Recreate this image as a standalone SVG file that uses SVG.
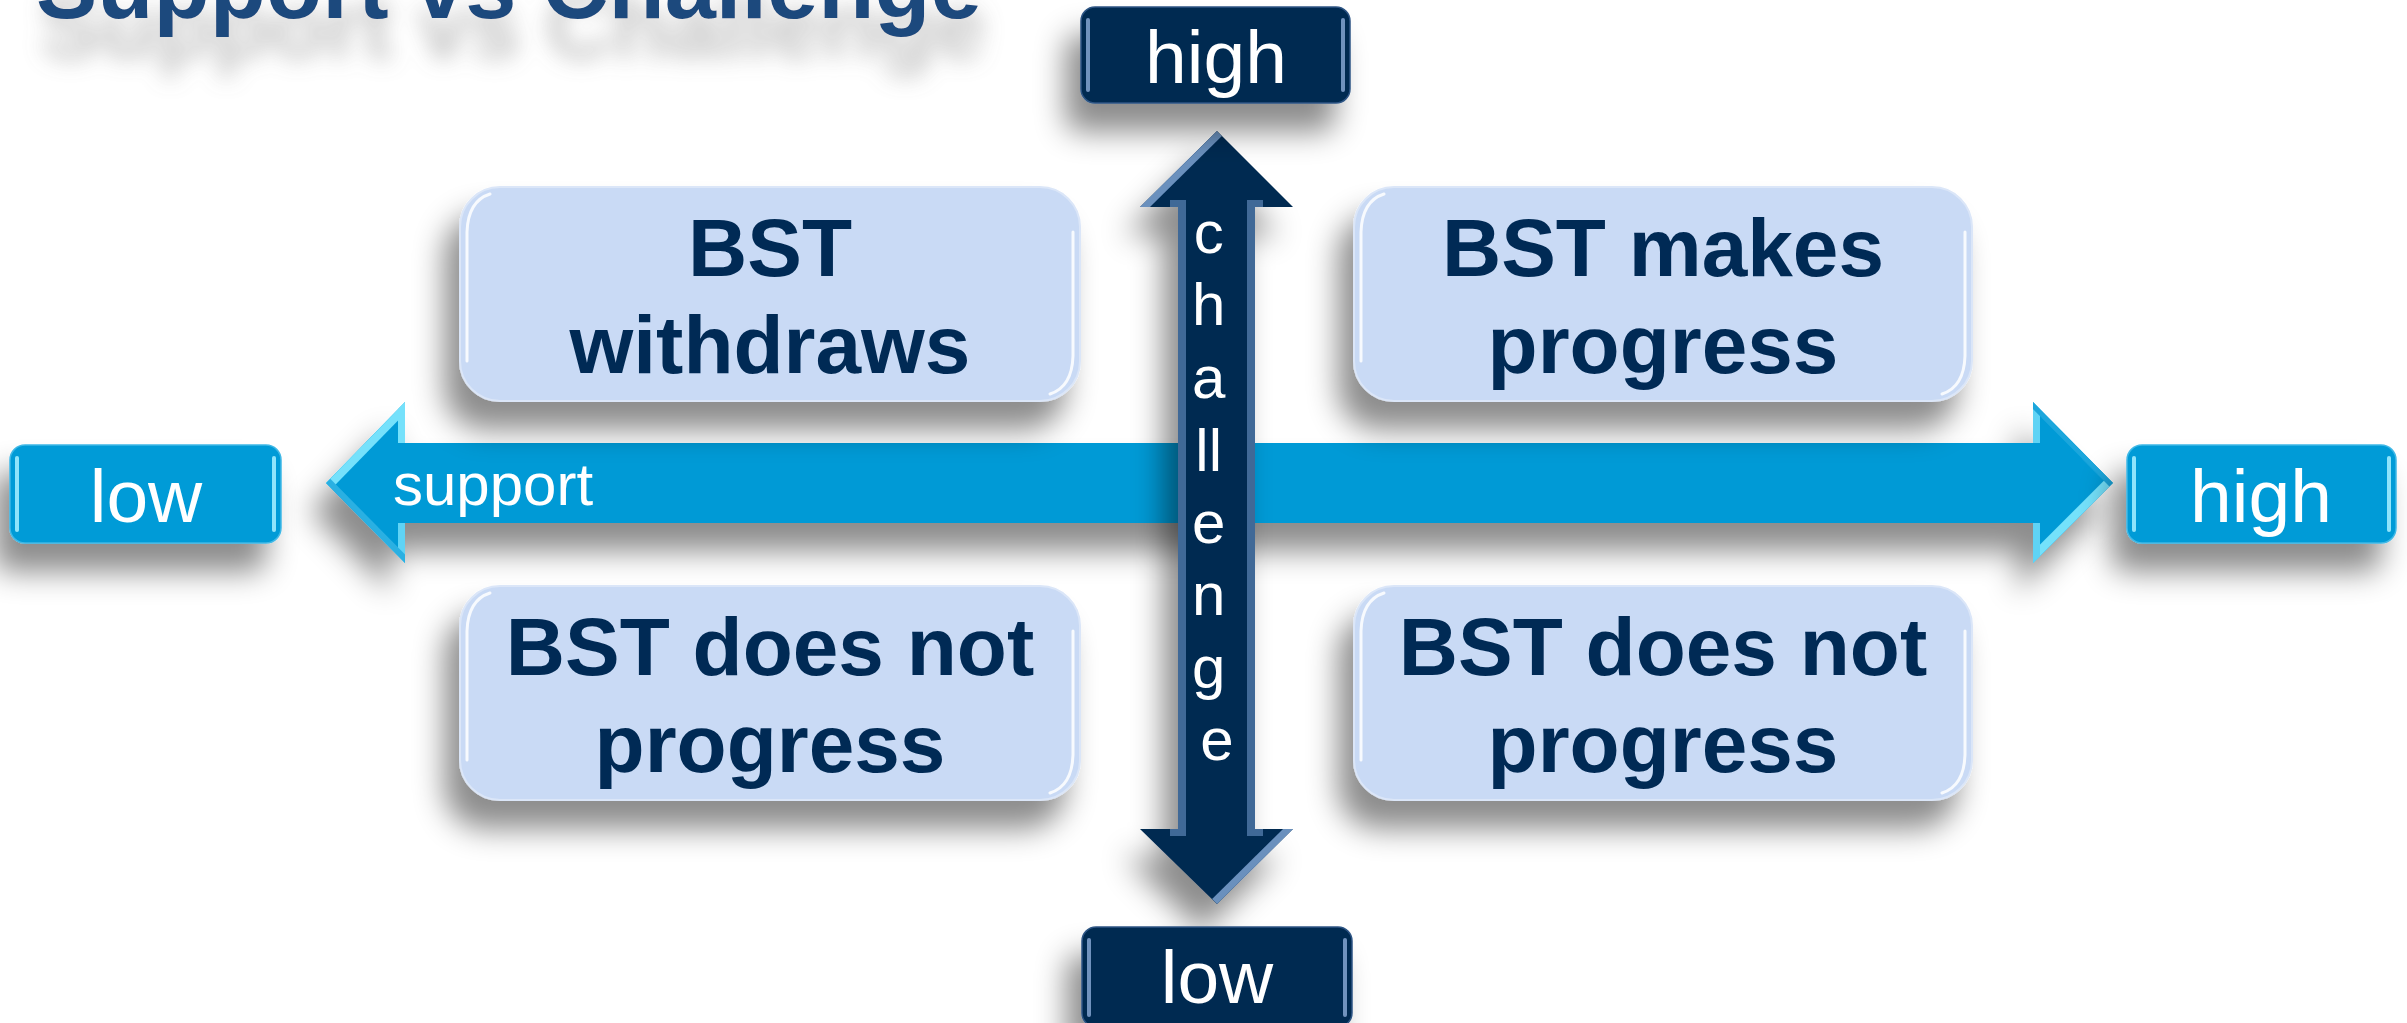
<svg xmlns="http://www.w3.org/2000/svg" width="2407" height="1023" viewBox="0 0 2407 1023">
  <defs>
    <style>
      .title { font-family: "Liberation Sans", Arial, sans-serif; font-weight: bold; font-size: 92px; }
      .lbl { font-family: "Liberation Sans", Arial, sans-serif; fill: #ffffff; text-anchor: middle; font-size: 75px; }
      .quad { font-family: "Liberation Sans", Arial, sans-serif; font-weight: bold; fill: #002a54; text-anchor: middle; font-size: 82px; }
      .axis { font-family: "Liberation Sans", Arial, sans-serif; fill: #ffffff; font-size: 60px; }
      .qbox { fill: #c9daf5; stroke: #dbe6f8; stroke-width: 2; }
      .cyanbox { fill: #009bd7; stroke: #3fb8e6; stroke-width: 1.5; }
      .navybox { fill: #022a51; stroke: #2d5484; stroke-width: 1.5; }
      .hl-q { fill: none; stroke: #ffffff; stroke-width: 3; stroke-linecap: round; opacity: 0.85; }
      .hl-c { fill: none; stroke: #8fe4fb; stroke-width: 4; stroke-linecap: round; }
      .hl-n { fill: none; stroke: #6f92bd; stroke-width: 4; stroke-linecap: round; }
    </style>
    <filter id="drop" x="-60%" y="-90%" width="220%" height="280%">
      <feDropShadow dx="-15" dy="28" stdDeviation="15" flood-color="#000000" flood-opacity="0.45"/>
    </filter>
    <filter id="titleShadow" x="-10%" y="-60%" width="120%" height="260%">
      <feGaussianBlur in="SourceAlpha" stdDeviation="11" result="b"/>
      <feOffset in="b" dx="4" dy="40" result="o"/>
      <feFlood flood-color="#7a7a7a" flood-opacity="0.45"/>
      <feComposite in2="o" operator="in" result="s"/>
      <feMerge>
        <feMergeNode in="s"/>
        <feMergeNode in="SourceGraphic"/>
      </feMerge>
    </filter>
    <path id="hArrow" d="M326 483 L405 402 L405 443 L2033 443 L2033 402 L2113 483 L2033 563 L2033 523 L405 523 L405 563 Z"/>
    <path id="vArrow" d="M1217 131 L1293 207 L1255 207 L1255 829 L1293 829 L1217 904 L1140 829 L1178 829 L1178 207 L1140 207 Z"/>
    <clipPath id="hClip"><use href="#hArrow"/></clipPath>
    <clipPath id="vClip"><use href="#vArrow"/></clipPath>
  </defs>

  <rect width="2407" height="1023" fill="#ffffff"/>

  <!-- heading with its soft cast shadow -->
  <g id="title">
    <text class="title" x="36" y="18" fill="#1f497d" filter="url(#titleShadow)">Support vs Challenge</text>
  </g>

  <!-- axes -->
  <g id="connectors">
    <g id="support-axis" filter="url(#drop)">
      <use href="#hArrow" fill="#009ad6"/>
      <g clip-path="url(#hClip)" fill="none">
        <line x1="326" y1="483" x2="405" y2="402" stroke="#74e1fb" stroke-width="16"/>
        <line x1="405" y1="402" x2="405" y2="443" stroke="#74e1fb" stroke-width="14"/>
        <line x1="405" y1="523" x2="405" y2="563" stroke="#5fd3f5" stroke-width="14"/>
        <line x1="405" y1="563" x2="326" y2="483" stroke="#2cb0e2" stroke-width="12"/>
        <line x1="2113" y1="483" x2="2033" y2="563" stroke="#74e1fb" stroke-width="16"/>
        <line x1="2033" y1="402" x2="2033" y2="443" stroke="#5fd3f5" stroke-width="14"/>
        <line x1="2033" y1="523" x2="2033" y2="563" stroke="#5fd3f5" stroke-width="14"/>
        <line x1="2033" y1="402" x2="2113" y2="483" stroke="#1aa6dc" stroke-width="10"/>
      </g>
      <text class="axis" x="393" y="505" font-size="59">support</text>
    </g>
    <g id="challenge-axis" filter="url(#drop)">
      <use href="#vArrow" fill="#022a51"/>
      <g clip-path="url(#vClip)" fill="none">
        <line x1="1217" y1="131" x2="1140" y2="207" stroke="#6a90bd" stroke-width="14"/>
        <line x1="1178" y1="200" x2="1178" y2="836" stroke="#3f6997" stroke-width="16"/>
        <line x1="1255" y1="200" x2="1255" y2="836" stroke="#3f6997" stroke-width="16"/>
        <line x1="1293" y1="829" x2="1217" y2="904" stroke="#6a90bd" stroke-width="14"/>
      </g>
      <text class="axis" text-anchor="middle" font-size="62">
        <tspan x="1217" y="253">c</tspan>
        <tspan x="1217" y="325">h</tspan>
        <tspan x="1217" y="398">a</tspan>
        <tspan x="1217" y="471">ll</tspan>
        <tspan x="1217" y="543">e</tspan>
        <tspan x="1217" y="615">n</tspan>
        <tspan x="1217" y="688">g</tspan>
        <tspan x="1217" y="760">e</tspan>
      </text>
    </g>
  </g>

  <!-- quadrant outcomes -->
  <g id="quad-top-left" filter="url(#drop)">
    <rect class="qbox" x="460" y="187" width="620" height="214" rx="40"/>
    <path class="hl-q" d="M467 361 L467 232 Q468 201 490 194"/>
    <path class="hl-q" d="M1073 232 L1073 356 Q1072 387 1050 394"/>
    <text class="quad" x="770" y="276">BST</text>
    <text class="quad" x="770" y="373">withdraws</text>
  </g>
  <g id="quad-top-right" filter="url(#drop)">
    <rect class="qbox" x="1354" y="187" width="618" height="214" rx="40"/>
    <path class="hl-q" d="M1361 361 L1361 232 Q1362 201 1384 194"/>
    <path class="hl-q" d="M1965 232 L1965 356 Q1964 387 1942 394"/>
    <text class="quad" x="1663" y="276">BST makes</text>
    <text class="quad" x="1663" y="373">progress</text>
  </g>
  <g id="quad-bottom-left" filter="url(#drop)">
    <rect class="qbox" x="460" y="586" width="620" height="214" rx="40"/>
    <path class="hl-q" d="M467 760 L467 631 Q468 600 490 593"/>
    <path class="hl-q" d="M1073 631 L1073 755 Q1072 786 1050 793"/>
    <text class="quad" x="770" y="675">BST does not</text>
    <text class="quad" x="770" y="772">progress</text>
  </g>
  <g id="quad-bottom-right" filter="url(#drop)">
    <rect class="qbox" x="1354" y="586" width="618" height="214" rx="40"/>
    <path class="hl-q" d="M1361 760 L1361 631 Q1362 600 1384 593"/>
    <path class="hl-q" d="M1965 631 L1965 755 Q1964 786 1942 793"/>
    <text class="quad" x="1663" y="675">BST does not</text>
    <text class="quad" x="1663" y="772">progress</text>
  </g>

  <!-- axis end labels -->
  <g id="support-low" filter="url(#drop)">
    <rect class="cyanbox" x="10" y="445" width="271" height="98" rx="15"/>
    <path class="hl-c" d="M17 458 L17 530"/>
    <path class="hl-c" d="M274 458 L274 530"/>
    <text class="lbl" x="146" y="522">low</text>
  </g>
  <g id="support-high" filter="url(#drop)">
    <rect class="cyanbox" x="2127" y="445" width="269" height="98" rx="15"/>
    <path class="hl-c" d="M2134 458 L2134 530"/>
    <path class="hl-c" d="M2389 458 L2389 530"/>
    <text class="lbl" x="2261" y="522">high</text>
  </g>
  <g id="challenge-high" filter="url(#drop)">
    <rect class="navybox" x="1081" y="7" width="269" height="96" rx="14"/>
    <path class="hl-n" d="M1088 20 L1088 90"/>
    <path class="hl-n" d="M1343 20 L1343 90"/>
    <text class="lbl" x="1216" y="83">high</text>
  </g>
  <g id="challenge-low" filter="url(#drop)">
    <rect class="navybox" x="1082" y="927" width="270" height="100" rx="14"/>
    <path class="hl-n" d="M1089 940 L1089 1015"/>
    <path class="hl-n" d="M1345 940 L1345 1015"/>
    <text class="lbl" x="1217" y="1003">low</text>
  </g>
</svg>
